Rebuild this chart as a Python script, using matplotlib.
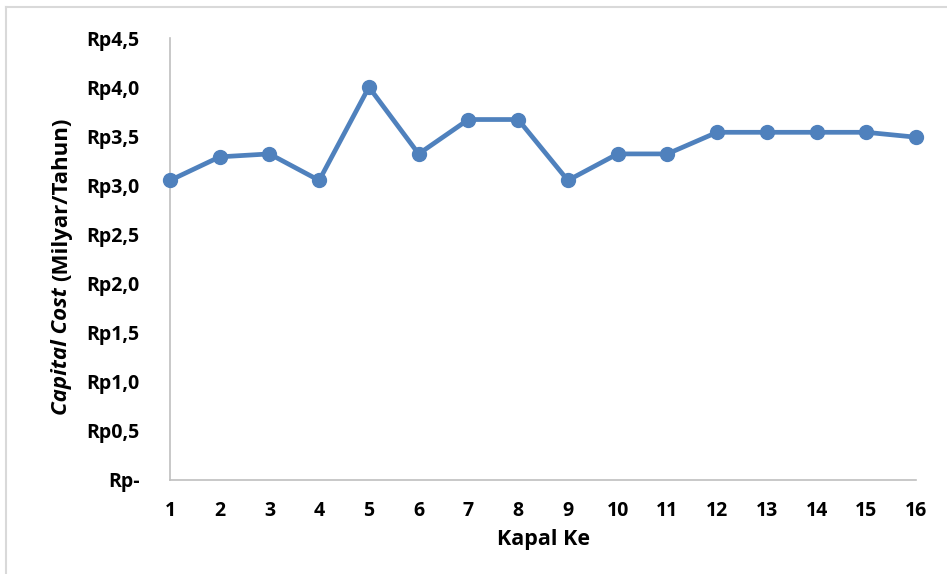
from matplotlib import pyplot as plt
from matplotlib.lines import Line2D
from matplotlib.ticker import FixedLocator, FuncFormatter

# data
kapal = list(range(1, 17))
capital_cost = [3.05, 3.29, 3.32, 3.05, 4.00, 3.32, 3.67, 3.67,
                3.05, 3.32, 3.32, 3.54, 3.54, 3.54, 3.54, 3.49]
y_ticks = [0, 0.5, 1.0, 1.5, 2.0, 2.5, 3.0, 3.5, 4.0, 4.5]

plt.rcParams['font.family'] = ['Open Sans', 'DejaVu Sans']
plt.rcParams['font.weight'] = 'bold'

BLUE = '#4F81BD'
GREY = '#BFBFBF'


def rp(v, pos):
    if v == 0:
        return 'Rp-'
    return 'Rp' + ('%.1f' % v).replace('.', ',')


fig = plt.figure(figsize=(9.47, 5.74), dpi=100)
ax = fig.add_axes([170 / 947, 1 - 480 / 574, (916 - 170) / 947, (480 - 38) / 574])

ax.plot(kapal, capital_cost, color=BLUE, lw=3.4, marker='o', ms=10,
        clip_on=False, zorder=3)

ax.set_xlim(1, 16)
ax.set_ylim(0, 4.5)
ax.set_xticks(kapal)
ax.yaxis.set_major_locator(FixedLocator(y_ticks))
ax.yaxis.set_major_formatter(FuncFormatter(rp))
ax.tick_params(axis='both', length=0, labelsize=14)
ax.tick_params(axis='x', pad=15)
ax.tick_params(axis='y', pad=22)
for lab in ax.get_xticklabels() + ax.get_yticklabels():
    lab.set_fontweight('bold')

for s in ['top', 'right']:
    ax.spines[s].set_visible(False)
for s in ['left', 'bottom']:
    ax.spines[s].set_color(GREY)
    ax.spines[s].set_linewidth(1.2)

ax.set_xlabel('Kapal Ke', fontsize=15.5, fontweight='bold', labelpad=6)

# y label: italic part + regular part, stacked along the rotated baseline
fig.canvas.draw()
x_lab = 62 / 947
t1 = fig.text(x_lab, 1 - 415 / 574, 'Capital Cost', rotation=90, fontsize=16,
              fontweight='bold', style='italic', ha='center', va='bottom')
fig.canvas.draw()
bb = t1.get_window_extent()
y2 = (bb.y1 + 6) / fig.bbox.height
fig.text(x_lab, y2, '(Milyar/Tahun)', rotation=90, fontsize=16,
         fontweight='bold', ha='center', va='bottom')

# chart frame (top and left edges visible)
fig.add_artist(Line2D([6 / 947, 6 / 947], [0, 1 - 7 / 574], color='#D9D9D9', lw=1.5))
fig.add_artist(Line2D([6 / 947, 1], [1 - 7 / 574, 1 - 7 / 574], color='#D9D9D9', lw=1.5))

plt.savefig('out.png', dpi=100)
